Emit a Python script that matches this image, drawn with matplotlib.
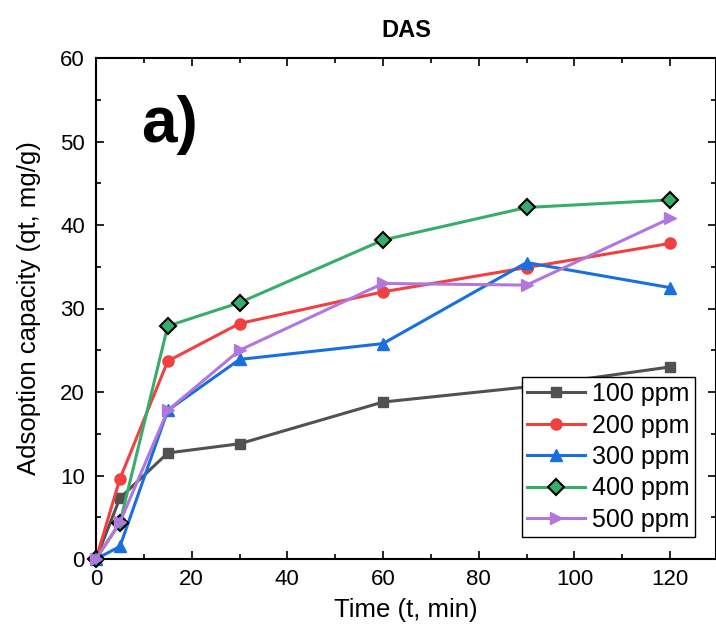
import matplotlib
matplotlib.use("Agg")
import matplotlib.pyplot as plt
from matplotlib.ticker import MultipleLocator
from matplotlib import font_manager

time = [0, 5, 15, 30, 60, 90, 120]
labels = ["100 ppm", "200 ppm", "300 ppm", "400 ppm", "500 ppm"]
q100 = [0, 7.3, 12.7, 13.8, 18.8, 20.6, 23.0]
q200 = [0, 9.6, 23.7, 28.2, 32.0, 34.9, 37.8]
q300 = [0, 1.5, 17.8, 23.9, 25.8, 35.5, 32.5]
q400 = [0, 4.3, 27.9, 30.7, 38.2, 42.1, 43.0]
q500 = [0, 4.4, 17.8, 25.0, 33.0, 32.8, 40.8]

colors = ["#515151", "#F14040", "#1A6FDF", "#37AD6B", "#B177DE"]
markers = ["s", "o", "^", "D", ">"]
msizes = [7, 8, 9, 7, 9]

plt.rcParams['font.family'] = ['Liberation Sans', 'DejaVu Sans']
names = {f.name for f in font_manager.fontManager.ttflist}
title_font = 'Liberation Sans Narrow' if 'Liberation Sans Narrow' in names else 'Liberation Sans'

fig = plt.figure(figsize=(7.16, 6.31), dpi=100)
ax = fig.add_axes([96/716, 1-559/631, (716-96)/716, (559-58)/631])

series = [q100, q200, q300, q400, q500]
for i, (ys, lab) in enumerate(zip(series, labels)):
    kw = dict(color=colors[i], marker=markers[i], markersize=msizes[i], linewidth=2.2, label=lab,
              markerfacecolor=colors[i], markeredgecolor=colors[i], clip_on=False, zorder=3)
    if markers[i] == "D":
        kw.update(markeredgecolor="black", markeredgewidth=1.5, markersize=8)
    ax.plot(time, ys, **kw)

ax.set_xlim(0, 129.6)
ax.set_ylim(0, 60)
ax.xaxis.set_major_locator(MultipleLocator(20))
ax.xaxis.set_minor_locator(MultipleLocator(10))
ax.yaxis.set_major_locator(MultipleLocator(10))
ax.yaxis.set_minor_locator(MultipleLocator(5))
ax.tick_params(which='both', direction='in', top=True, right=True, labelsize=16, width=1.2)
ax.tick_params(which='major', length=6)
ax.tick_params(which='minor', length=3.5)
ax.tick_params(axis='x', pad=7)
ax.tick_params(axis='y', pad=8)
ax.set_xticks([0, 20, 40, 60, 80, 100, 120])
for s in ax.spines.values():
    s.set_linewidth(1.5)

ax.set_xlabel("Time (t, min)", fontsize=18.5, labelpad=6)
ax.set_ylabel("Adsoption capacity (qt, mg/g)", fontsize=18.5, labelpad=14)
ax.set_title("DAS", fontsize=17, fontweight='bold', family=title_font, pad=15)
ax.text(0.072, 0.866, "a)", transform=ax.transAxes, fontsize=46, fontweight='bold', va='center', ha='left')

leg = ax.legend(loc='upper left', bbox_to_anchor=((522-96)/620, (559-377)/501), fontsize=18,
                frameon=True, fancybox=False, edgecolor='black', framealpha=1,
                borderpad=0.2, labelspacing=0.3, handlelength=2.3, handletextpad=0.3, borderaxespad=0)
leg.get_frame().set_linewidth(1.0)

fig.savefig("out.png", dpi=100)
